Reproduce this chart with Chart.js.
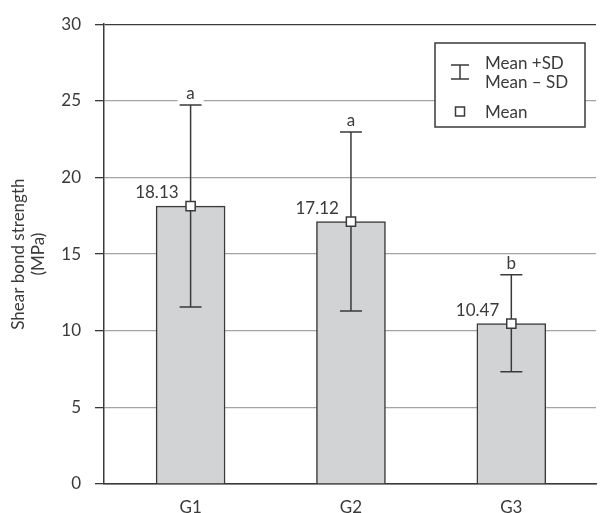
<!DOCTYPE html>
<html>
<head>
<meta charset="utf-8">
<script src="https://cdn.jsdelivr.net/npm/chart.js@4.4.1/dist/chart.umd.min.js"></script>
<style>
  html, body { margin: 0; padding: 0; background: #fff; }
</style>
</head>
<body>
<canvas id="chart" width="604" height="513"></canvas>
<script>
// ---- data ----
const groups = ["G1", "G2", "G3"];
const means = [18.13, 17.12, 10.47];
const upperSD = [24.73, 22.97, 13.65];   // mean + SD
const lowerSD = [11.55, 11.28, 7.32];    // mean - SD
const letters = ["a", "a", "b"];
const yTicks = [0, 5, 10, 15, 20, 25, 30];

const FONT = "Lato, 'Open Sans', sans-serif";
const INK = "#3a3a3a";

// error bars drawn right after the bars, before the mean squares
const overlay = {
  id: "overlay",
  afterDatasetDraw(chart, args) {
    if (args.index !== 0) return;
    const { ctx, scales: { x, y } } = chart;
    ctx.save();
    ctx.strokeStyle = INK;
    ctx.lineWidth = 1.5;
    groups.forEach((g, i) => {
      const px = x.getPixelForValue(i);
      const top = y.getPixelForValue(upperSD[i]);
      const bot = y.getPixelForValue(lowerSD[i]);
      ctx.beginPath();
      ctx.moveTo(px, top); ctx.lineTo(px, bot);
      ctx.moveTo(px - 11, top); ctx.lineTo(px + 11, top);
      ctx.moveTo(px - 11, bot); ctx.lineTo(px + 11, bot);
      ctx.stroke();
    });
    ctx.restore();
  },
  afterDraw(chart) {
    const { ctx, scales: { x, y } } = chart;
    ctx.save();
    ctx.font = "17px " + FONT;
    ctx.fillStyle = INK;

    groups.forEach((g, i) => {
      const px = x.getPixelForValue(i);
      // significance letter above the upper cap
      const top = y.getPixelForValue(upperSD[i]);
      ctx.fillStyle = "#fff";
      ctx.fillRect(px - 13, top - 18, 26, 16);
      ctx.fillStyle = INK;
      ctx.textAlign = "center";
      ctx.textBaseline = "alphabetic";
      ctx.fillText(letters[i], px, top - 6);
      // mean value to the left of the error bar
      const my = y.getPixelForValue(means[i]);
      ctx.textAlign = "right";
      ctx.fillText(means[i].toFixed(2), px - 12, my - 8);
    });

    // legend box
    const lx = 435, ly = 43, lw = 150, lh = 84;
    ctx.fillStyle = "#fff";
    ctx.fillRect(lx, ly, lw, lh);
    ctx.strokeStyle = INK;
    ctx.lineWidth = 1.5;
    ctx.strokeRect(lx, ly, lw, lh);

    const ix = 460;
    ctx.beginPath();
    ctx.moveTo(ix - 9, 65); ctx.lineTo(ix + 9, 65);
    ctx.moveTo(ix, 65); ctx.lineTo(ix, 79);
    ctx.moveTo(ix - 9, 79); ctx.lineTo(ix + 9, 79);
    ctx.stroke();
    ctx.strokeRect(ix - 4.5, 107, 9, 9);

    ctx.fillStyle = INK;
    ctx.font = "17px " + FONT;
    ctx.textAlign = "left";
    ctx.fillText("Mean +SD", 485, 69);
    ctx.fillText("Mean \u2013 SD", 485, 88);
    ctx.fillText("Mean", 485, 118);
    ctx.restore();
  }
};

new Chart(document.getElementById("chart"), {
  type: "bar",
  data: {
    datasets: [
      {
        type: "bar",
        data: groups.map((g, i) => ({ x: i, y: means[i] })),
        backgroundColor: "#d2d3d5",
        borderColor: INK,
        borderWidth: 1.5,
        barThickness: 69,
        order: 2
      },
      {
        type: "line",
        data: groups.map((g, i) => ({ x: i, y: means[i] })),
        showLine: false,
        pointStyle: "rect",
        pointRadius: 6.5,
        pointHoverRadius: 6.5,
        pointBackgroundColor: "#fff",
        pointBorderColor: INK,
        pointBorderWidth: 1.5,
        order: 1
      }
    ]
  },
  options: {
    responsive: false,
    animation: false,
    events: [],
    layout: { padding: { top: 18, right: 0, left: 0, bottom: 0 } },
    plugins: {
      legend: { display: false },
      tooltip: { enabled: false }
    },
    scales: {
      x: {
        type: "linear",
        offset: false,
        min: -0.54,
        max: 2.528,
        afterBuildTicks: (axis) => { axis.ticks = groups.map((g, i) => ({ value: i })); },
        afterFit: (scale) => { scale.height = 29; },
        grid: { display: false, drawTicks: false, offset: false },
        border: { display: true, color: INK, width: 1.5 },
        ticks: {
          autoSkip: false,
          maxRotation: 0,
          padding: 13,
          color: INK,
          font: { family: FONT, size: 17 },
          callback: (v) => groups[v]
        }
      },
      y: {
        min: 0,
        max: 30,
        afterBuildTicks: (axis) => { axis.ticks = yTicks.map(v => ({ value: v })); },
        afterFit: (scale) => { scale.width = 104; },
        grid: {
          color: (c) => (c.tick && (c.tick.value === 30 || c.tick.value === 0)) ? INK : "#a4a4a4",
          lineWidth: 1.3,
          tickLength: 9,
          tickColor: INK
        },
        border: { display: true, color: INK, width: 1.5 },
        ticks: {
          padding: 14,
          color: INK,
          font: { family: FONT, size: 17 }
        },
        title: {
          display: true,
          text: ["Shear bond strength", "(MPa)"],
          color: INK,
          font: { family: FONT, size: 17, lineHeight: 1.2 },
          padding: { top: 8, bottom: 0 }
        }
      }
    }
  },
  plugins: [overlay]
});
</script>
</body>
</html>
